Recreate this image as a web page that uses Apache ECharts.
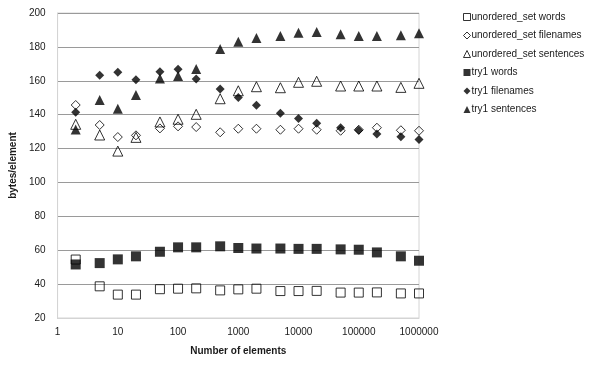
<!DOCTYPE html>
<html>
<head>
<meta charset="utf-8">
<script src="https://cdn.jsdelivr.net/npm/echarts@6/dist/echarts.min.js"></script>
<style>html,body{margin:0;padding:0;background:#fff;}#c{width:600px;height:365px;}</style>
</head>
<body>
<div id="c"></div>
<script>
const sizes = [2, 5, 10, 20, 50, 100, 200, 500, 1000, 2000, 5000, 10000, 20000, 50000, 100000, 200000, 500000, 1000000];
const seriesNames = ["unordered_set words", "unordered_set filenames", "unordered_set sentences", "try1 words", "try1 filenames", "try1 sentences"];
const usWords = [54.5, 38.7, 33.8, 33.8, 37, 37.3, 37.5, 36.3, 36.9, 37.3, 35.9, 35.9, 36, 35, 35, 35.1, 34.5, 34.5];
const usFilenames = [145.7, 133.9, 126.8, 127.8, 131.9, 133.1, 132.7, 129.6, 131.7, 131.7, 131.1, 131.7, 131.1, 130.5, 131.1, 132.3, 130.8, 130.5];
const usSentences = [134.3, 128, 118.5, 126.6, 135.7, 137.3, 140.2, 149.4, 154.1, 156.5, 155.9, 159.1, 159.7, 156.9, 156.9, 156.9, 156.1, 158.5];
const t1Words = [51.6, 52.4, 54.6, 56.4, 59.1, 61.7, 61.7, 62.3, 61.3, 61, 61, 60.8, 60.8, 60.5, 60.3, 58.7, 56.4, 53.8];
const t1Filenames = [141.4, 163.2, 165, 160.6, 165.4, 166.8, 161, 155.1, 150.2, 145.5, 140.8, 137.8, 134.9, 132.3, 130.8, 128.6, 127, 125.4];
const t1Sentences = [131.3, 148.6, 143.5, 151.6, 161.4, 162.8, 167, 178.7, 183, 185.2, 186.4, 188.4, 188.8, 187.4, 186.4, 186.4, 186.8, 188];
const yTicks = [20, 40, 60, 80, 100, 120, 140, 160, 180, 200];

const FONT = '"Liberation Sans", Arial, sans-serif';
function pts(vals) { return sizes.map((s, i) => [s, vals[i]]); }
function open(name, vals, symbol, size) {
  return { name, type: 'scatter', data: pts(vals), symbol, symbolSize: size,
    itemStyle: { color: 'rgba(255,255,255,0)', borderColor: '#000', borderWidth: 1 } };
}
function filled(name, vals, symbol, size) {
  return { name, type: 'scatter', data: pts(vals), symbol, symbolSize: size,
    itemStyle: { color: '#000' } };
}
const chart = echarts.init(document.getElementById('c'), null, { renderer: 'canvas' });
chart.setOption({
  animation: false,
  backgroundColor: '#fff',
  textStyle: { fontFamily: FONT },
  grid: { left: 53, right: 181, top: 13, bottom: 47, show: true, borderColor: '#d4d4d4', borderWidth: 1, backgroundColor: 'transparent' },
  legend: {
    orient: 'vertical', left: 458, top: 7, itemWidth: 7, itemHeight: 7, itemGap: 8.5,
    data: seriesNames,
    itemStyle: { borderWidth: 1 },
    textStyle: { fontSize: 10, color: '#1a1a1a', fontFamily: FONT, padding: [0, 0, 0, -4] },
    selectedMode: false
  },
  xAxis: {
    type: 'log', logBase: 10, min: 1, max: 1000000,
    name: 'Number of elements', nameLocation: 'middle', nameGap: 28,
    nameTextStyle: { fontWeight: 'bold', fontSize: 10, color: '#1a1a1a', fontFamily: FONT },
    axisLine: { show: true, lineStyle: { color: '#d4d4d4' } },
    axisTick: { show: false },
    splitLine: { show: false },
    minorTick: { show: false },
    axisLabel: { fontSize: 10, color: '#1a1a1a', margin: 9, fontFamily: FONT,
      formatter: v => String(Math.round(v)) }
  },
  yAxis: {
    type: 'value', min: yTicks[0], max: yTicks[yTicks.length - 1], interval: 20,
    name: 'bytes/element', nameLocation: 'middle', nameGap: 38,
    nameTextStyle: { fontWeight: 'bold', fontSize: 10, color: '#1a1a1a', fontFamily: FONT },
    axisLine: { show: true, lineStyle: { color: '#d4d4d4' } },
    axisTick: { show: false },
    splitLine: { show: true, lineStyle: { color: '#9a9a9a', width: 1 } },
    axisLabel: { fontSize: 10, color: '#1a1a1a', margin: 12, fontFamily: FONT }
  },
  series: [
    open(seriesNames[0], usWords, 'rect', 9),
    open(seriesNames[1], usFilenames, 'diamond', 9),
    open(seriesNames[2], usSentences, 'triangle', 10),
    filled(seriesNames[3], t1Words, 'rect', 10),
    filled(seriesNames[4], t1Filenames, 'diamond', 9),
    filled(seriesNames[5], t1Sentences, 'triangle', 10)
  ]
});
</script>
</body>
</html>
